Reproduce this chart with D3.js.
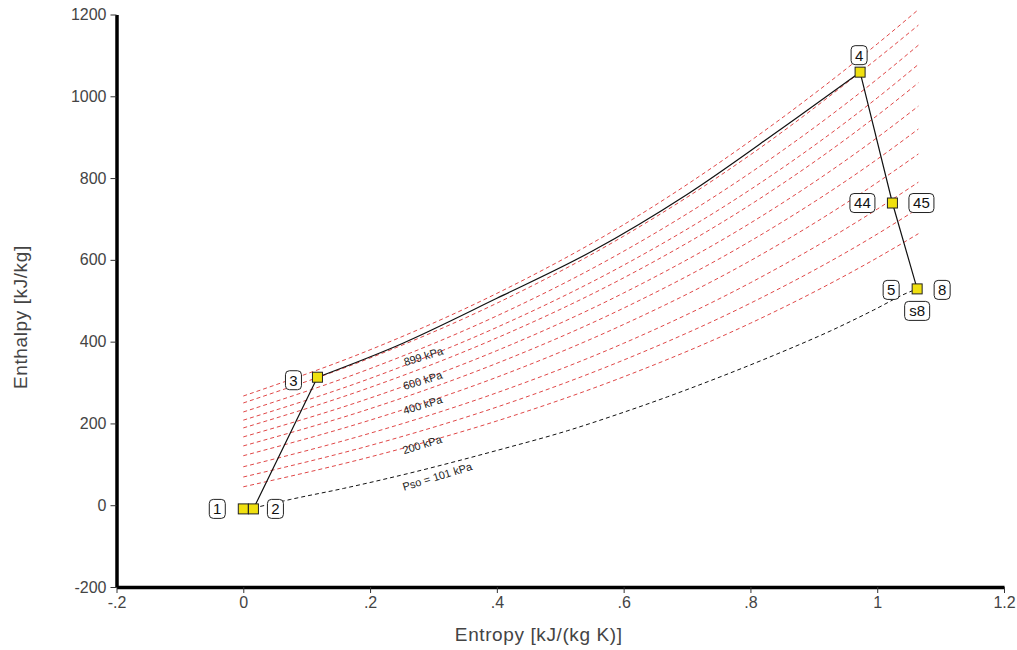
<!DOCTYPE html>
<html>
<head>
<meta charset="utf-8">
<script src="https://cdn.jsdelivr.net/npm/d3@7"></script>
<style>
  body { margin: 0; background: #fff; }
  svg { display: block; font-family: "Liberation Sans", Arial, sans-serif; }
  .tick text { fill: #444; font-size: 16px; }
  .axis-label { fill: #444; font-size: 19px; letter-spacing: 0.6px; }
  .iso-label { fill: #222; font-size: 11px; }
  .state-label { fill: #111; font-size: 15px; }
</style>
</head>
<body>
<svg id="chart"></svg>
<script>
// axis ticks
const sTicks = [-0.2, 0, 0.2, 0.4, 0.6, 0.8, 1, 1.2];
const sTickLabels = ["-.2", "0", ".2", ".4", ".6", ".8", "1", "1.2"];
const hTicks = [-200, 0, 200, 400, 600, 800, 1000, 1200];

// red isobars, enthalpy at shared entropy points
const isoS = [0, 0.2, 0.4, 0.6, 0.8, 1.0, 1.065];
const isoH = [
  [267, 380, 518, 686, 891, 1128, 1212],
  [250, 360, 494, 658, 857, 1092, 1174],
  [228, 334, 463, 621, 813, 1042, 1125],
  [208, 310, 435, 587, 772, 996, 1078],
  [189, 288, 409, 556, 735, 953, 1033],
  [167, 262, 378, 519, 690, 899, 976],
  [145, 236, 347, 482, 646, 846, 920],
  [121, 208, 313, 442, 598, 789, 859],
  [94, 176, 275, 396, 544, 724, 790],
  [69, 146, 240, 355, 494, 663, 726],
  [45, 118, 206, 314, 445, 605, 664]
];

// ambient pressure line (Pso = 101 kPa)
const ambS = [0.016, 0.074, 0.158, 0.248, 0.405, 0.511, 0.59, 0.669, 0.741, 0.847, 0.926, 0.994, 1.047, 1.063];
const ambH = [-7, 14, 41, 73, 136, 182, 222, 265, 307, 373, 426, 477, 519, 529];

// combustion path 3 -> 4
const combS = [0.117, 0.25, 0.4, 0.55, 0.7, 0.85, 0.95, 0.973];
const combH = [313, 395, 506, 621, 760, 922, 1033, 1059];

// cycle states
const stateS = [0, 0.016, 0.117, 0.973, 1.024, 1.063];
const stateH = [-9, -9, 313, 1059, 739, 529];

// labels attached to the states
const labelText = ["1", "2", "3", "4", "44", "45", "5", "8", "s8"];
const labelState = [0, 1, 2, 3, 4, 4, 5, 5, 5];

// isobar captions
const isoLabelText = ["899 kPa", "600 kPa", "400 kPa", "200 kPa", "Pso = 101 kPa"];
const isoLabelS = [0.284, 0.283, 0.283, 0.282, 0.306];
const isoLabelH = [364, 305, 245, 148, 70];

const svgWidth = 1017, svgHeight = 650;
const margin = { top: 14.5, right: 13, bottom: 63, left: 116.5 };

const svg = d3.select("#chart")
  .attr("width", svgWidth)
  .attr("height", svgHeight);

const x = d3.scaleLinear().domain([-0.2, 1.2]).range([margin.left, svgWidth - margin.right]);
const y = d3.scaleLinear().domain([-200, 1200]).range([svgHeight - margin.bottom, margin.top]);

const smooth = d3.line().x(d => x(d[0])).y(d => y(d[1])).curve(d3.curveMonotoneX);

// isobars
svg.append("g")
  .selectAll("path")
  .data(isoH)
  .enter()
  .append("path")
  .attr("d", hs => smooth(isoS.map((s, i) => [s, hs[i]])))
  .attr("fill", "none")
  .attr("stroke", "#e04848")
  .attr("stroke-width", 1)
  .attr("stroke-dasharray", "4,3");

// ambient line
svg.append("path")
  .attr("d", smooth(ambS.map((s, i) => [s, ambH[i]])))
  .attr("fill", "none")
  .attr("stroke", "#111")
  .attr("stroke-width", 1)
  .attr("stroke-dasharray", "4,3");

// isobar captions
svg.append("g")
  .selectAll("text")
  .data(isoLabelText)
  .enter()
  .append("text")
  .attr("class", "iso-label")
  .attr("text-anchor", "middle")
  .attr("transform", (d, i) => `translate(${x(isoLabelS[i])},${y(isoLabelH[i])}) rotate(-17)`)
  .attr("dy", "0.35em")
  .text(d => d);

// cycle lines
const straight = d3.line().x(d => x(d[0])).y(d => y(d[1]));
svg.append("path")
  .attr("d", straight([0, 1, 2].map(i => [stateS[i], stateH[i]])))
  .attr("fill", "none").attr("stroke", "#111").attr("stroke-width", 1.2);
svg.append("path")
  .attr("d", d3.line().x(d => x(d[0])).y(d => y(d[1])).curve(d3.curveCatmullRom)(combS.map((s, i) => [s, combH[i]])))
  .attr("fill", "none").attr("stroke", "#111").attr("stroke-width", 1.2);
svg.append("path")
  .attr("d", straight([3, 4, 5].map(i => [stateS[i], stateH[i]])))
  .attr("fill", "none").attr("stroke", "#111").attr("stroke-width", 1.2);

// state markers
svg.append("g")
  .selectAll("rect")
  .data(stateS)
  .enter()
  .append("rect")
  .attr("x", (d, i) => x(d) - 5)
  .attr("y", (d, i) => y(stateH[i]) - 5)
  .attr("width", 10)
  .attr("height", 10)
  .attr("fill", "#f0e010")
  .attr("stroke", "#222")
  .attr("stroke-width", 1);

// label offsets (px) from the state marker
const labelDx = [-26, 22, -24, -1, -30, 29, -26, 25, 0];
const labelDy = [0, 0, 3, -17, 0, 0, 1, 1, 22];

const labels = svg.append("g")
  .selectAll("g")
  .data(labelText)
  .enter()
  .append("g")
  .attr("transform", (d, i) => {
    const k = labelState[i];
    return `translate(${x(stateS[k]) + labelDx[i]},${y(stateH[k]) + labelDy[i]})`;
  });

labels.append("rect")
  .attr("x", d => -(d.length > 1 ? 12.5 : 8))
  .attr("y", -9.5)
  .attr("width", d => d.length > 1 ? 25 : 16)
  .attr("height", 19)
  .attr("rx", 4)
  .attr("fill", "#fff")
  .attr("stroke", "#222")
  .attr("stroke-width", 1);

labels.append("text")
  .attr("class", "state-label")
  .attr("text-anchor", "middle")
  .attr("dy", "0.36em")
  .text(d => d);

// axes
const xAxis = svg.append("g")
  .attr("transform", `translate(0,${svgHeight - margin.bottom})`)
  .call(d3.axisBottom(x).tickValues(sTicks).tickFormat((d, i) => sTickLabels[i]).tickSize(6).tickSizeOuter(0));
const yAxis = svg.append("g")
  .attr("transform", `translate(${margin.left},0)`)
  .call(d3.axisLeft(y).tickValues(hTicks).tickFormat(d => d).tickSize(6).tickSizeOuter(0));

[xAxis, yAxis].forEach(g => {
  g.select(".domain").attr("stroke", "#000").attr("stroke-width", 3.5);
  g.selectAll(".tick line").attr("stroke", "#333");
});
xAxis.selectAll(".tick text").attr("dy", "0.75em");
yAxis.selectAll(".tick text").attr("x", -10);

svg.append("text")
  .attr("class", "axis-label")
  .attr("text-anchor", "middle")
  .attr("x", x(0.466))
  .attr("y", 641)
  .text("Entropy [kJ/(kg K)]");

svg.append("text")
  .attr("class", "axis-label")
  .attr("text-anchor", "middle")
  .attr("transform", `translate(27,${y(460)}) rotate(-90)`)
  .text("Enthalpy [kJ/kg]");
</script>
</body>
</html>
